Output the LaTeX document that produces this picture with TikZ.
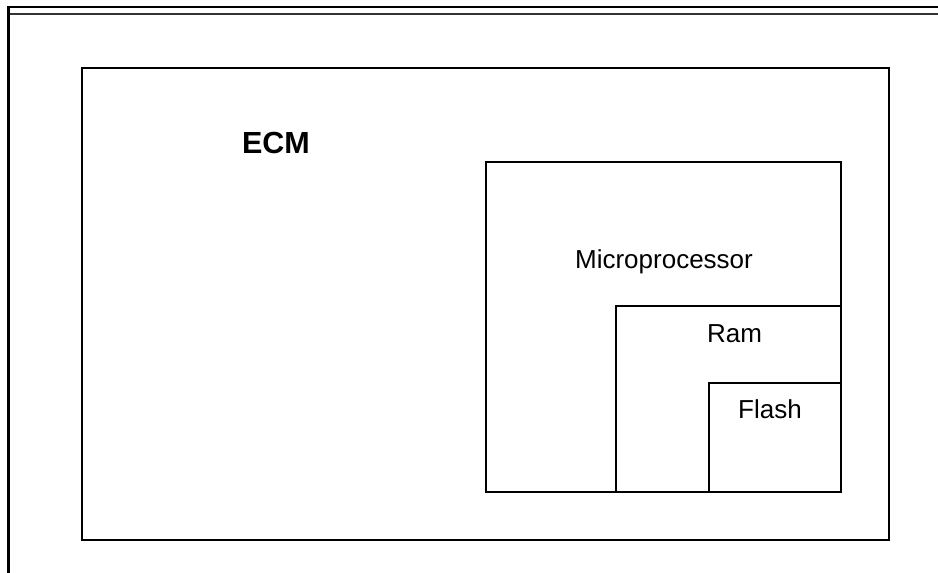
\documentclass[tikz,border=0pt]{standalone}
\usepackage{fontspec}
\setmainfont{Liberation Sans}
\begin{document}
\begin{tikzpicture}[x=1pt,y=-1pt,
  box/.style={draw=black,line width=1.7pt},
  lbl/.style={anchor=base,inner sep=0pt,font=\fontsize{26}{30}\selectfont},
  biglbl/.style={anchor=base,inner sep=0pt,font=\fontsize{30.5}{36}\selectfont\bfseries}]
\useasboundingbox (0,0) rectangle (938,573);
% frame lines
\coordinate (tl) at (8.5,7);
\coordinate (tr) at (938,7);
\coordinate (bl) at (8.5,573);
\coordinate (sl) at (10,14);
\coordinate (sr) at (938,14);
\draw[line width=2.2pt,line cap=rect] (bl) -- (tl) -- (tr);
\draw[line width=1.6pt,black!80] (sl) -- (sr);
% boxes
\draw[box] (82,68) rectangle (889,540);
\node[biglbl] (ecm) at (276,153) {ECM};
\draw[box] (486,162) rectangle (841,492);
\node[lbl] (mp) at (664,268) {Microprocessor};
\draw[box] (616,306) rectangle (841,492);
\node[lbl] (ram) at (734.5,342) {Ram};
\draw[box] (709,383) rectangle (841,492);
\node[lbl] (flash) at (770,418) {Flash};
\end{tikzpicture}
\end{document}
